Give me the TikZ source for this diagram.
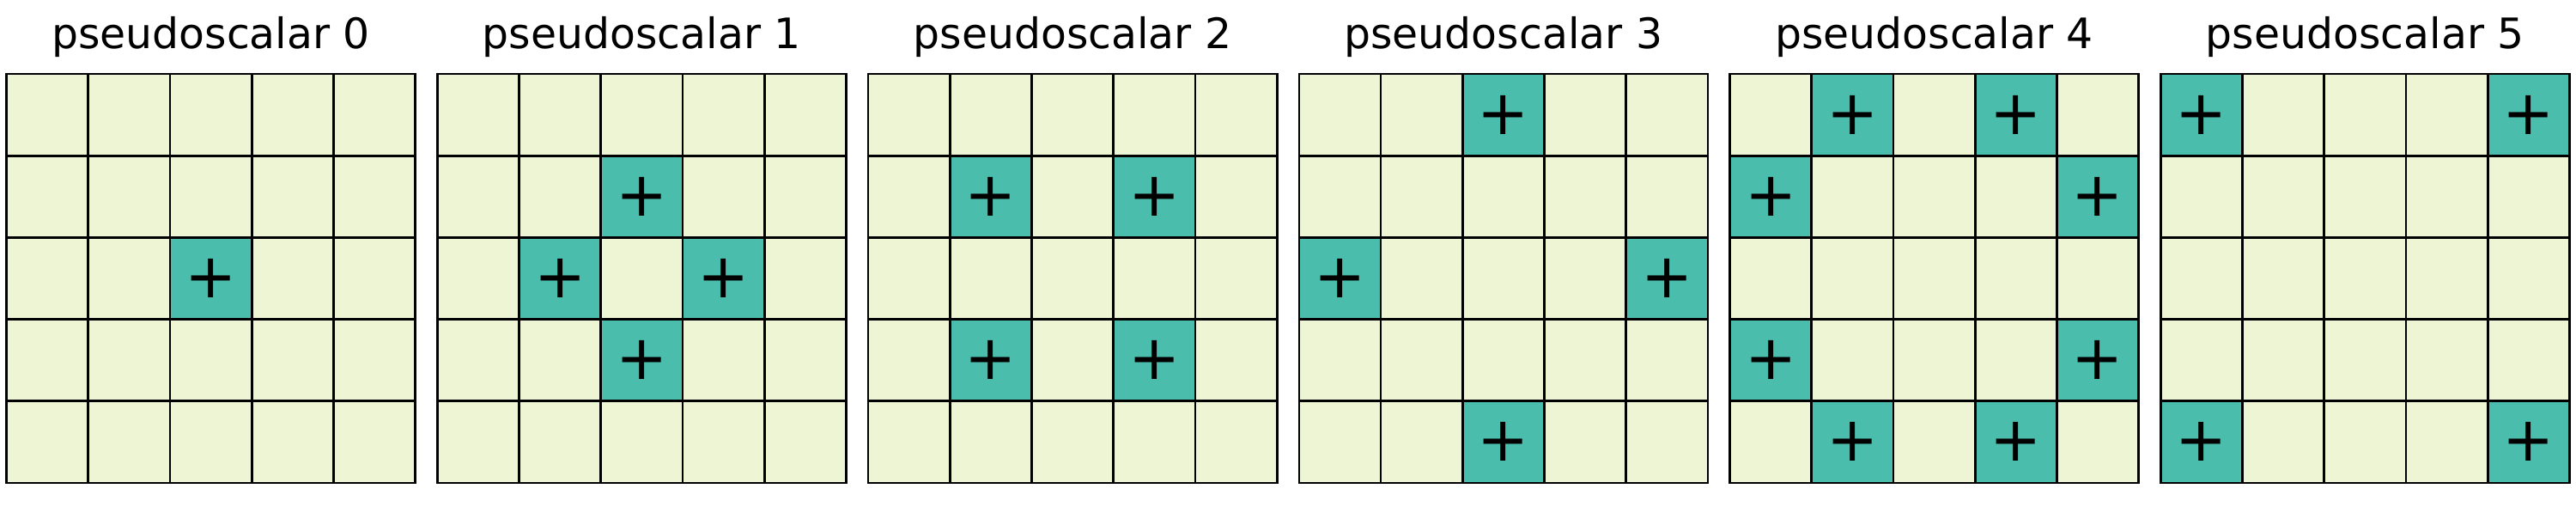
\documentclass[tikz,border=0pt]{standalone}
\usepackage{fontspec}
\setmainfont{DejaVu Sans}
\definecolor{cellbg}{HTML}{EEF5D4}
\definecolor{cellhi}{HTML}{4BBDAC}
\tikzset{
    paneltitle/.style={inner sep=0pt, anchor=base, font=\fontsize{14.6}{17}\selectfont},
    plusmark/.style={inner sep=0pt, font=\fontsize{21.5}{24}\selectfont},
    gridline/.style={line width=0.8pt, black}
}
\begin{document}
\begin{tikzpicture}
    \useasboundingbox (-0.080,-0.294) rectangle (31.43,5.903);
    % one panel per pseudoscalar, marked cells as col/row (row 0 on top)
    \foreach \p/\cells in {0/{2/2},
                           1/{2/1,1/2,3/2,2/3},
                           2/{1/1,3/1,1/3,3/3},
                           3/{2/0,0/2,4/2,2/4},
                           4/{1/0,3/0,0/1,4/1,0/3,4/3,1/4,3/4},
                           5/{0/0,4/0,0/4,4/4}} {
        \begin{scope}[xshift=\p*5.27cm]
            \fill [cellbg] (0,0) rectangle (5,5);
            \foreach \c/\r in \cells {
                \fill [cellhi] (\c,4-\r) rectangle ++(1,1);
                \node [plusmark] (mark\p-\c-\r) at (\c+0.5,4.5-\r) {+};
            }
            \draw [gridline] (0,0) grid (5,5);
            \draw [gridline] (0,0) rectangle (5,5);
            % title
            \node [paneltitle] (title\p) at (2.5,5.308) {pseudoscalar \p};
        \end{scope}
    }
\end{tikzpicture}
\end{document}
